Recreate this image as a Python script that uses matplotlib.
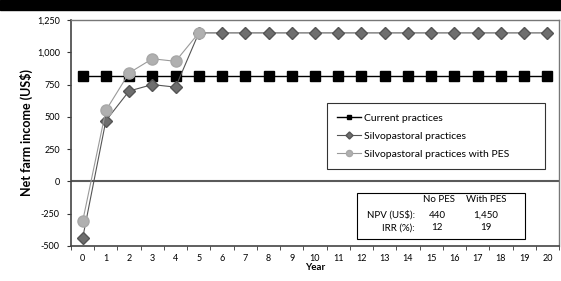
import matplotlib
matplotlib.use("Agg")
import matplotlib.pyplot as plt
from matplotlib.patches import Rectangle
import numpy as np

years = list(range(0, 21))
current = [820] * 21
silvo = [-440, 470, 700, 750, 730] + [1150] * 16
pes_years = [0, 1, 2, 3, 4, 5]
pes = [-310, 550, 840, 950, 930, 1150]
yticks = [-500, -250, 0, 250, 500, 750, 1000, 1250]

plt.rcParams['font.family'] = ['Lato', 'DejaVu Sans']

fig = plt.figure(figsize=(5.61, 2.81), dpi=100)
fig.patch.set_facecolor('white')
fig.patches.append(Rectangle((0, 1 - 10/281), 1, 10/281, transform=fig.transFigure,
                             color='black', zorder=10))
ax = fig.add_axes([71/561, 1 - 246/281, (559-71)/561, (246-20)/281])

ax.axhline(0, color='#5a5a5a', lw=1.5, zorder=1)
ax.plot(years, current, color='black', lw=1.0, marker='s', ms=6.5,
        mfc='black', mec='black', label='Current practices', zorder=3)
ax.plot(years, silvo, color='#555555', lw=0.8, marker='D', ms=6.5,
        mfc='#6e6e6e', mec='#555555', label='Silvopastoral practices', zorder=4)
ax.plot(pes_years, pes, color='#9a9a9a', lw=0.8, marker='o', ms=8,
        mfc='#b0b0b0', mec='#a8a8a8', label='Silvopastoral practices with PES', zorder=5)

ax.set_xlim(-0.5, 20.5)
ax.set_ylim(-500, 1250)
ax.set_xticks(years)
ax.set_xticklabels([str(y) for y in years], fontsize=6.5)
ax.set_xticks(np.arange(-0.5, 21, 1), minor=True)
ax.tick_params(axis='x', which='major', length=0, pad=6)
ax.tick_params(axis='x', which='minor', length=3, direction='out', color='#333333')
ax.set_yticks(yticks)
ax.set_yticklabels([f"{v:,}" for v in yticks], fontsize=6.5)
ax.tick_params(axis='y', length=3, direction='out', color='#333333', pad=5)

for s in ['left', 'bottom']:
    ax.spines[s].set_color('#444444')
    ax.spines[s].set_linewidth(1.2)
for s in ['top', 'right']:
    ax.spines[s].set_color('#777777')
    ax.spines[s].set_linewidth(1.0)

ax.set_xlabel('Year', fontsize=7, fontweight='bold', labelpad=0)
ax.set_ylabel('Net farm income (US$)', fontsize=9, fontweight='bold', labelpad=3)

lx0 = (327-71)/488
lx1 = (545-71)/488
ly1 = 1 - (103-20)/226
leg = ax.legend(loc='upper left', bbox_to_anchor=(lx0, ly1 - 0.3, lx1 - lx0, 0.3),
                mode='expand', fontsize=7.5, frameon=True, fancybox=False,
                edgecolor='black', markerscale=0.55, handlelength=2.3,
                handletextpad=0.3, borderpad=1.0, labelspacing=0.85, borderaxespad=0)
leg.get_frame().set_linewidth(0.8)

# NPV/IRR table box
bx0, by0 = (357-71)/488, 1 - (239-20)/226
bw, bh = (525-357)/488, (239-193)/226
ax.add_patch(Rectangle((bx0, by0), bw, bh, transform=ax.transAxes, fill=True,
                       facecolor='white', edgecolor='black', lw=0.8, zorder=6))
def t(x, y, s, ha):
    ax.text((x-71)/488, 1-(y-20)/226, s, transform=ax.transAxes, fontsize=7,
            ha=ha, va='center', zorder=7)
t(439, 200, 'No PES', 'center')
t(486, 200, 'With PES', 'center')
t(415, 215, 'NPV (US$):', 'right')
t(437, 215, '440', 'center')
t(486, 215, '1,450', 'center')
t(415, 228, 'IRR (%):', 'right')
t(437, 228, '12', 'center')
t(486, 228, '19', 'center')

fig.savefig('out.png', dpi=100)
